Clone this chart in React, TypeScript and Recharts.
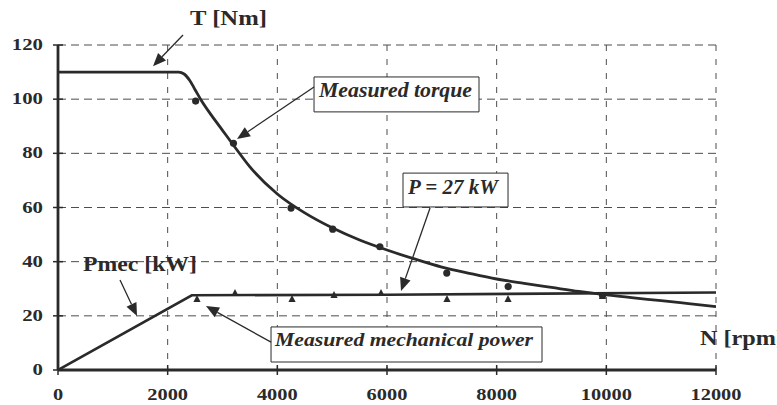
import {
  CartesianGrid,
  ComposedChart,
  Line,
  ReferenceArea,
  ReferenceLine,
  Scatter,
  XAxis,
  YAxis,
} from "recharts";

const INK = "#2a2a2a";
const GRID = "#4d4d4d";
const SERIF = "'Liberation Serif', 'Times New Roman', serif";

const speedTicks = [0, 2000, 4000, 6000, 8000, 10000, 12000];
const valueTicks = [0, 20, 40, 60, 80, 100, 120];

// torque curve T [Nm] vs speed N [rpm]
const torqueCurveN = [
  0, 2200, 2300, 2400, 2500, 2600, 2800, 3000, 3200, 3500, 4000, 4500, 5000, 5500, 6000, 6500,
  7000, 7500, 8000, 8500, 9000, 9500, 10000, 10500, 11000, 11500, 12000,
];
const torqueCurveT = [
  110, 110, 109.3, 107, 103.5, 100, 94, 88.5, 83, 75, 65, 58, 52.5, 48, 44.3, 41, 38, 35.7,
  33.6, 32, 30.5, 29, 27.7, 26.6, 25.6, 24.5, 23.4,
];

// mechanical power curve Pmec [kW]
const powerCurveN = [0, 2440, 6000, 12000];
const powerCurveP = [0, 27.6, 27.8, 28.6];

// measured points
const measuredTorqueN = [2510, 3200, 4250, 5010, 5870, 7090, 8210, 9930];
const measuredTorqueT = [99.3, 83.7, 59.8, 52, 45.5, 35.8, 30.8, 27.5];
const measuredPowerN = [2535, 3228, 4268, 5034, 5891, 7094, 8207, 9930];
const measuredPowerP = [26.2, 28.4, 26.2, 27.7, 28.4, 26.2, 26.2, 27.3];

const zip = (ns: number[], vs: number[]) => ns.map((n, i) => ({ n, v: vs[i] }));

const torqueCurve = zip(torqueCurveN, torqueCurveT);
const powerCurve = zip(powerCurveN, powerCurveP);
const measuredTorque = zip(measuredTorqueN, measuredTorqueT);
const measuredPower = zip(measuredPowerN, measuredPowerP);

// annotation boxes (data coords)
const boxes = [
  { x1: 4669, x2: 7678, y1: 95.3, y2: 108.2 },
  { x1: 6292, x2: 8207, y1: 60.2, y2: 72.7 },
  { x1: 3885, x2: 8827, y1: 2.95, y2: 15.9 },
];

// text labels: horizontal extent and baseline in data coords
const labels = [
  { text: "T [Nm]", x1: 2407, x2: 3811, base: 127.4, size: 22, italic: false },
  { text: "Pmec [kW]", x1: 456, x2: 2535, base: 36.6, size: 22, italic: false },
  { text: "N [rpm]", x1: 11709, x2: 13240, base: 9.2, size: 22, italic: false },
  { text: "Measured torque", x1: 4760, x2: 7551, base: 100.8, size: 20, italic: true },
  { text: "P = 27 kW", x1: 6383, x2: 8025, base: 65.0, size: 21, italic: true },
  { text: "Measured mechanical power", x1: 3958, x2: 8663, base: 8.9, size: 19.5, italic: true },
];

// arrows: [from, to] in data coords
const arrows = [
  [[2280, 123.7], [1733, 112.2]],
  [[4669, 104.5], [3265, 85.3]],
  [[6785, 59.8], [6256, 29.2]],
  [[1131, 33.2], [1441, 19.9]],
  [[3885, 10.3], [2699, 23.6]],
];

function Arrow(p: any) {
  const { x1, y1, x2, y2 } = p;
  const dx = x2 - x1;
  const dy = y2 - y1;
  const len = Math.hypot(dx, dy) || 1;
  const ux = dx / len;
  const uy = dy / len;
  const L = 13;
  const W = 5.5;
  const bx = x2 - ux * L;
  const by = y2 - uy * L;
  return (
    <g>
      <line x1={x1} y1={y1} x2={bx} y2={by} stroke={INK} strokeWidth={1.3} />
      <polygon
        points={`${x2},${y2} ${bx - uy * W},${by + ux * W} ${bx + uy * W},${by - ux * W}`}
        fill={INK}
      />
    </g>
  );
}

function SpeedTick(p: any) {
  const { x, y, payload } = p;
  const s = String(payload.value);
  return (
    <g>
      <line x1={x} y1={y - 5} x2={x} y2={y + 5} stroke={INK} strokeWidth={1.5} />
      <text
        x={x}
        y={y + 30}
        textAnchor="middle"
        fontFamily={SERIF}
        fontWeight="bold"
        fontSize={17.5}
        fill={INK}
        textLength={s.length * 10.2}
        lengthAdjust="spacingAndGlyphs"
      >
        {s}
      </text>
    </g>
  );
}

function ValueTick(p: any) {
  const { x, y, payload } = p;
  const s = String(payload.value);
  return (
    <g>
      <line x1={x - 5} y1={y} x2={x + 5} y2={y} stroke={INK} strokeWidth={1.5} />
      <text
        x={x - 15}
        y={y + 5}
        textAnchor="end"
        fontFamily={SERIF}
        fontWeight="bold"
        fontSize={17.5}
        fill={INK}
        textLength={s.length * 10.4}
        lengthAdjust="spacingAndGlyphs"
      >
        {s}
      </text>
    </g>
  );
}

const Circle = (p: any) => <circle cx={p.cx} cy={p.cy} r={3.6} fill={INK} />;
const Tri = (p: any) => (
  <polygon
    points={`${p.cx},${p.cy - 4} ${p.cx - 3.6},${p.cy + 3} ${p.cx + 3.6},${p.cy + 3}`}
    fill={INK}
  />
);

export default function App() {
  return (
    <div style={{ position: "absolute", left: 0, top: 0, width: 777, height: 405, background: "#fff" }}>
      <ComposedChart width={777} height={405} margin={{ top: 45, right: 61, bottom: 0, left: 0 }}>
        <CartesianGrid horizontal={false} stroke={GRID} strokeDasharray="6 8" />
        <CartesianGrid vertical={false} stroke={GRID} strokeDasharray="8 5" />
        <XAxis
          type="number"
          dataKey="n"
          domain={[0, 12000]}
          ticks={speedTicks}
          interval={0}
          height={35}
          axisLine={{ stroke: INK, strokeWidth: 2.8 }}
          tickLine={false}
          tickSize={0}
          tickMargin={0}
          tick={SpeedTick}
          allowDataOverflow
        />
        <YAxis
          type="number"
          domain={[0, 120]}
          ticks={valueTicks}
          interval={0}
          width={58}
          axisLine={{ stroke: INK, strokeWidth: 2.8 }}
          tickLine={false}
          tickSize={0}
          tickMargin={0}
          tick={ValueTick}
          allowDataOverflow
        />

        {boxes.map((b, i) => (
          <ReferenceArea
            key={`box${i}`}
            x1={b.x1}
            x2={b.x2}
            y1={b.y1}
            y2={b.y2}
            ifOverflow="visible"
            fill="#fff"
            fillOpacity={1}
            stroke={INK}
            strokeWidth={1}
          />
        ))}

        <Line
          data={powerCurve}
          dataKey="v"
          type="linear"
          stroke={INK}
          strokeWidth={2.6}
          dot={false}
          activeDot={false}
          isAnimationActive={false}
        />
        <Line
          data={torqueCurve}
          dataKey="v"
          type="monotone"
          stroke={INK}
          strokeWidth={2.8}
          dot={false}
          activeDot={false}
          isAnimationActive={false}
        />
        <Scatter data={measuredTorque} dataKey="v" shape={Circle} isAnimationActive={false} />
        <Scatter data={measuredPower} dataKey="v" shape={Tri} isAnimationActive={false} />

        {arrows.map((a, i) => (
          <ReferenceLine
            key={`arr${i}`}
            segment={[
              { x: a[0][0], y: a[0][1] },
              { x: a[1][0], y: a[1][1] },
            ]}
            ifOverflow="visible"
            shape={Arrow}
          />
        ))}

        {labels.map((l, i) => (
          <ReferenceArea
            key={`lab${i}`}
            x1={l.x1}
            x2={l.x2}
            y1={l.base}
            y2={l.base + 4}
            ifOverflow="visible"
            fill="none"
            stroke="none"
            label={(p: any) => {
              const vb = p.viewBox;
              return (
                <text
                  x={vb.x}
                  y={vb.y + vb.height}
                  textLength={vb.width}
                  lengthAdjust="spacingAndGlyphs"
                  fontFamily={SERIF}
                  fontWeight="bold"
                  fontStyle={l.italic ? "italic" : "normal"}
                  fontSize={l.size}
                  fill={INK}
                >
                  {l.text}
                </text>
              );
            }}
          />
        ))}
      </ComposedChart>
    </div>
  );
}
